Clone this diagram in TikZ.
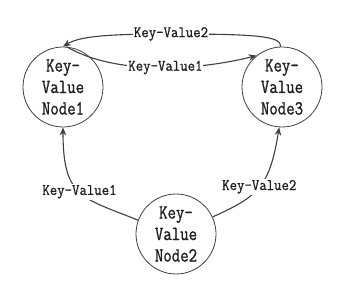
\documentclass[tikz,border=0pt]{standalone}
\usepackage{fontspec}
\newfontfamily\nodefont[FakeStretch=0.82,FakeBold=1]{Latin Modern Mono}
\newfontfamily\labfont[FakeStretch=0.9,FakeBold=0.8]{Latin Modern Mono}
\usetikzlibrary{arrows.meta}
\definecolor{linecol}{HTML}{404040}
\definecolor{txtcol}{HTML}{1E1E1E}
\begin{document}
\begin{tikzpicture}[x=1pt,y=-1pt,
  kvnode/.style={circle,draw=linecol,line width=0.8pt,minimum size=80pt,inner sep=0pt,
    align=center,text=txtcol,font=\nodefont\fontsize{20}{21.5}\selectfont},
  kvedge/.style={draw=linecol,line width=1.1pt,-{Stealth[length=8pt,width=6.5pt]}},
  kvlab/.style={fill=white,inner sep=1pt,text=txtcol,font=\labfont\fontsize{16}{16}\selectfont}]
\useasboundingbox (0,0) rectangle (340,283);
\node[kvnode] (n1) at (63,87) {Key-\\Value\\Node1};
\node[kvnode] (n3) at (282,87) {Key-\\Value\\Node3};
\node[kvnode] (n2) at (176,234) {Key-\\Value\\Node2};
% Node1 -> Node3
\draw[kvedge] (n1.85) .. controls (117,76) and (200,70) .. (n3.129)
  node[kvlab,pos=0.53] {Key-Value1};
% Node3 -> Node1
\draw[kvedge] (n3.92) .. controls (282,36) and (255,34) .. (171,34)
  node[kvlab] {Key-Value2}
  .. controls (110,34) and (80,36) .. (n1.north);
% Node2 -> Node1
\draw[kvedge] (n2.160) .. controls (82,197.5) and (63,198) .. (n1.south)
  node[kvlab,pos=0.5] {Key-Value1};
% Node2 -> Node3
\draw[kvedge] (n2.25) .. controls (258,196.5) and (269.6,187) .. (n3.-94)
  node[kvlab,pos=0.5] {Key-Value2};
\end{tikzpicture}
\end{document}
